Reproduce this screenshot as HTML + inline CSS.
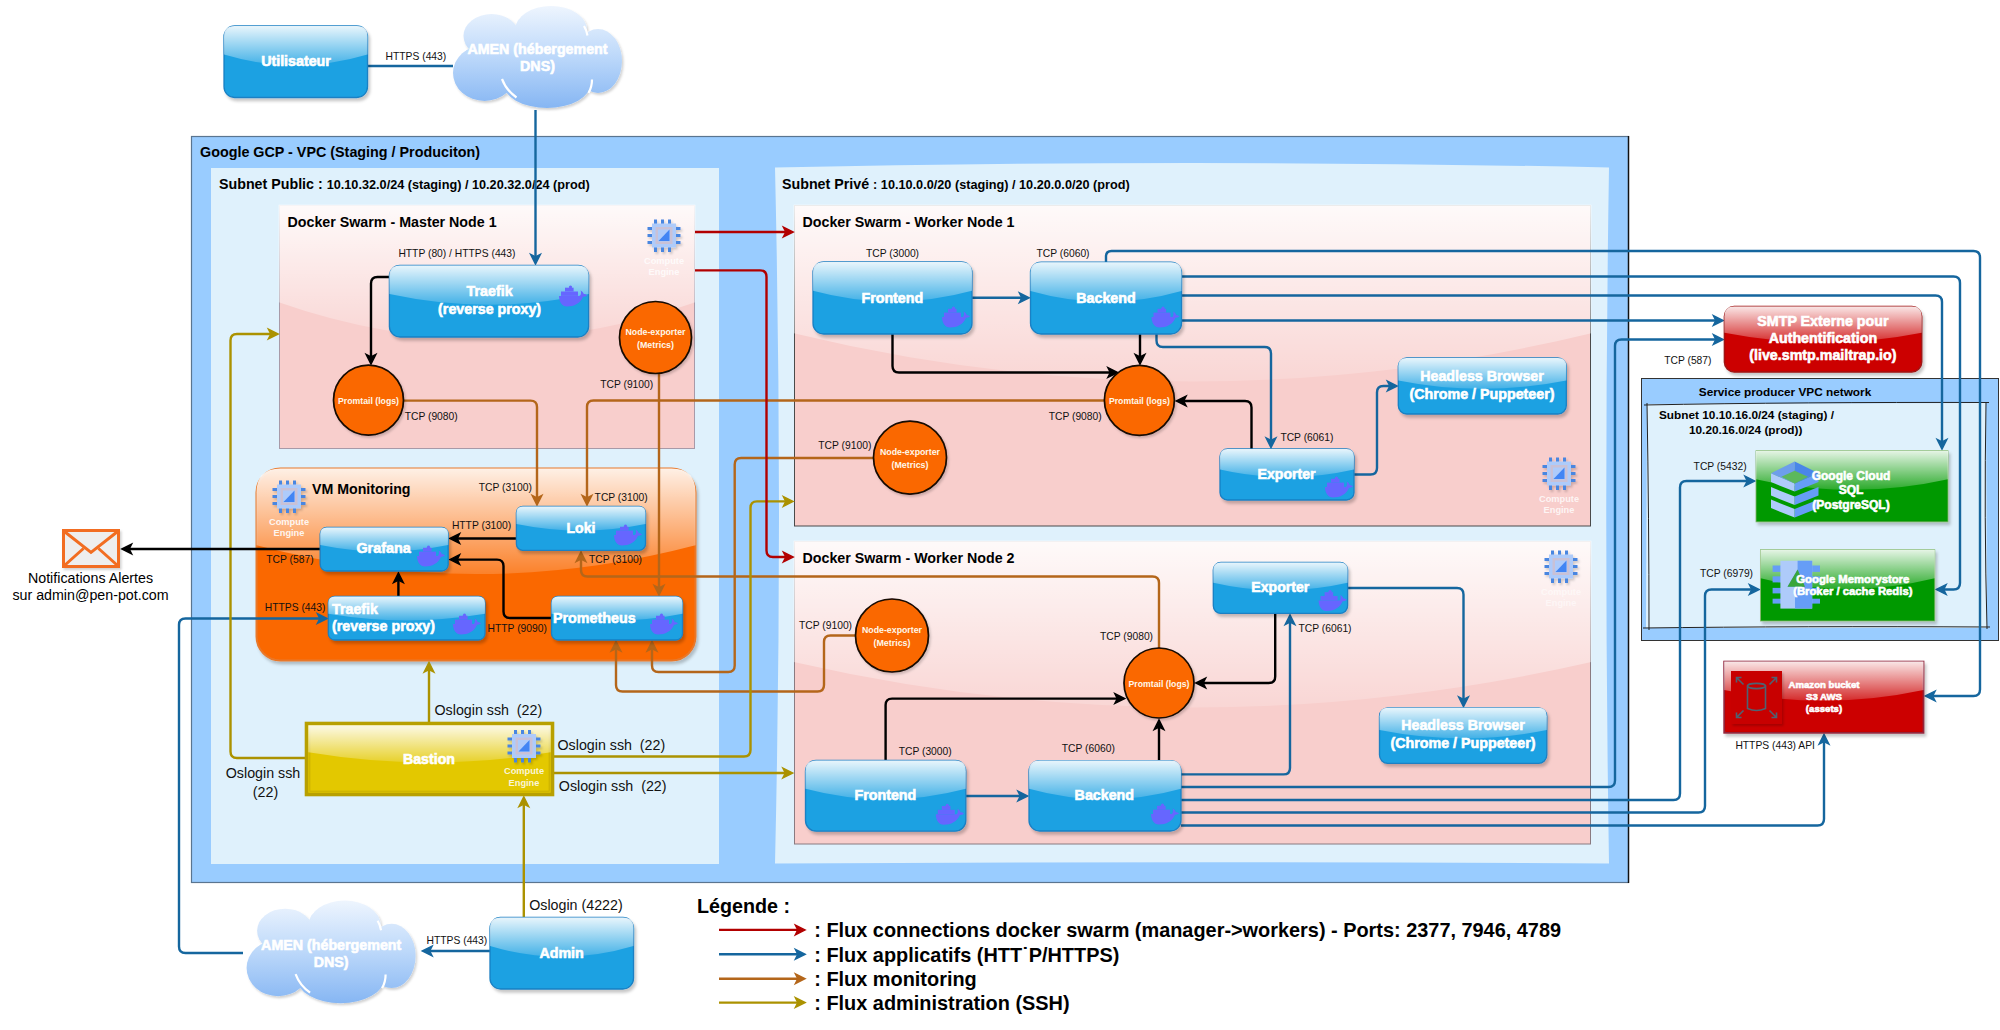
<!DOCTYPE html>
<html><head><meta charset="utf-8"><title>Architecture</title>
<style>
html,body{margin:0;padding:0;background:#fff;overflow:hidden;}
svg{display:block;font-family:"Liberation Sans", sans-serif;}
</style></head><body>
<svg width="2000" height="1030" viewBox="0 0 2000 1030">
<defs>
<linearGradient id="glass" x1="0" y1="0" x2="0" y2="1">
  <stop offset="0" stop-color="#fff" stop-opacity="0.9"/>
  <stop offset="1" stop-color="#fff" stop-opacity="0.1"/>
</linearGradient>
<filter id="sh" x="-10%" y="-10%" width="130%" height="140%">
  <feDropShadow dx="2" dy="3" stdDeviation="1.6" flood-color="#000" flood-opacity="0.22"/>
</filter>
<filter id="shs" x="-10%" y="-10%" width="130%" height="140%">
  <feDropShadow dx="1.5" dy="2" stdDeviation="1.2" flood-color="#000" flood-opacity="0.18"/>
</filter>
<linearGradient id="gl1" gradientUnits="userSpaceOnUse" x1="0" y1="204.7" x2="0" y2="350.98"><stop offset="0" stop-color="#fff" stop-opacity="0.9"/><stop offset="1" stop-color="#fff" stop-opacity="0.1"/></linearGradient><linearGradient id="gl2" gradientUnits="userSpaceOnUse" x1="0" y1="204.7" x2="0" y2="397.48"><stop offset="0" stop-color="#fff" stop-opacity="0.9"/><stop offset="1" stop-color="#fff" stop-opacity="0.1"/></linearGradient><linearGradient id="gl3" gradientUnits="userSpaceOnUse" x1="0" y1="540.7" x2="0" y2="722.6800000000001"><stop offset="0" stop-color="#fff" stop-opacity="0.9"/><stop offset="1" stop-color="#fff" stop-opacity="0.1"/></linearGradient><linearGradient id="gl4" gradientUnits="userSpaceOnUse" x1="0" y1="468.5" x2="0" y2="583.7"><stop offset="0" stop-color="#fff" stop-opacity="0.9"/><stop offset="1" stop-color="#fff" stop-opacity="0.1"/></linearGradient><linearGradient id="gl5" gradientUnits="userSpaceOnUse" x1="0" y1="26" x2="0" y2="68.9"><stop offset="0" stop-color="#fff" stop-opacity="0.9"/><stop offset="1" stop-color="#fff" stop-opacity="0.1"/></linearGradient><linearGradient id="gl6" gradientUnits="userSpaceOnUse" x1="0" y1="917.5" x2="0" y2="960.4"><stop offset="0" stop-color="#fff" stop-opacity="0.9"/><stop offset="1" stop-color="#fff" stop-opacity="0.1"/></linearGradient><linearGradient id="gl7" gradientUnits="userSpaceOnUse" x1="0" y1="265.4" x2="0" y2="308.35999999999996"><stop offset="0" stop-color="#fff" stop-opacity="0.9"/><stop offset="1" stop-color="#fff" stop-opacity="0.1"/></linearGradient><linearGradient id="gl8" gradientUnits="userSpaceOnUse" x1="0" y1="262" x2="0" y2="305.2"><stop offset="0" stop-color="#fff" stop-opacity="0.9"/><stop offset="1" stop-color="#fff" stop-opacity="0.1"/></linearGradient><linearGradient id="gl9" gradientUnits="userSpaceOnUse" x1="0" y1="262.2" x2="0" y2="305.28"><stop offset="0" stop-color="#fff" stop-opacity="0.9"/><stop offset="1" stop-color="#fff" stop-opacity="0.1"/></linearGradient><linearGradient id="gl10" gradientUnits="userSpaceOnUse" x1="0" y1="760.5" x2="0" y2="802.92"><stop offset="0" stop-color="#fff" stop-opacity="0.9"/><stop offset="1" stop-color="#fff" stop-opacity="0.1"/></linearGradient><linearGradient id="gl11" gradientUnits="userSpaceOnUse" x1="0" y1="760.6" x2="0" y2="802.84"><stop offset="0" stop-color="#fff" stop-opacity="0.9"/><stop offset="1" stop-color="#fff" stop-opacity="0.1"/></linearGradient><linearGradient id="gl12" gradientUnits="userSpaceOnUse" x1="0" y1="449" x2="0" y2="479.6"><stop offset="0" stop-color="#fff" stop-opacity="0.9"/><stop offset="1" stop-color="#fff" stop-opacity="0.1"/></linearGradient><linearGradient id="gl13" gradientUnits="userSpaceOnUse" x1="0" y1="562.4" x2="0" y2="593.0"><stop offset="0" stop-color="#fff" stop-opacity="0.9"/><stop offset="1" stop-color="#fff" stop-opacity="0.1"/></linearGradient><linearGradient id="gl14" gradientUnits="userSpaceOnUse" x1="0" y1="358" x2="0" y2="391.6"><stop offset="0" stop-color="#fff" stop-opacity="0.9"/><stop offset="1" stop-color="#fff" stop-opacity="0.1"/></linearGradient><linearGradient id="gl15" gradientUnits="userSpaceOnUse" x1="0" y1="707.8" x2="0" y2="741.16"><stop offset="0" stop-color="#fff" stop-opacity="0.9"/><stop offset="1" stop-color="#fff" stop-opacity="0.1"/></linearGradient><linearGradient id="gl16" gradientUnits="userSpaceOnUse" x1="0" y1="527.5" x2="0" y2="553.6"><stop offset="0" stop-color="#fff" stop-opacity="0.9"/><stop offset="1" stop-color="#fff" stop-opacity="0.1"/></linearGradient><linearGradient id="gl17" gradientUnits="userSpaceOnUse" x1="0" y1="506.4" x2="0" y2="532.8"><stop offset="0" stop-color="#fff" stop-opacity="0.9"/><stop offset="1" stop-color="#fff" stop-opacity="0.1"/></linearGradient><linearGradient id="gl18" gradientUnits="userSpaceOnUse" x1="0" y1="596.4" x2="0" y2="622.56"><stop offset="0" stop-color="#fff" stop-opacity="0.9"/><stop offset="1" stop-color="#fff" stop-opacity="0.1"/></linearGradient><linearGradient id="gl19" gradientUnits="userSpaceOnUse" x1="0" y1="596.4" x2="0" y2="622.56"><stop offset="0" stop-color="#fff" stop-opacity="0.9"/><stop offset="1" stop-color="#fff" stop-opacity="0.1"/></linearGradient><linearGradient id="gl20" gradientUnits="userSpaceOnUse" x1="0" y1="725.3" x2="0" y2="765.74"><stop offset="0" stop-color="#fff" stop-opacity="0.9"/><stop offset="1" stop-color="#fff" stop-opacity="0.1"/></linearGradient><linearGradient id="gl21" gradientUnits="userSpaceOnUse" x1="0" y1="306.6" x2="0" y2="345.78000000000003"><stop offset="0" stop-color="#fff" stop-opacity="0.9"/><stop offset="1" stop-color="#fff" stop-opacity="0.1"/></linearGradient><linearGradient id="gl22" gradientUnits="userSpaceOnUse" x1="0" y1="450.7" x2="0" y2="493.41999999999996"><stop offset="0" stop-color="#fff" stop-opacity="0.9"/><stop offset="1" stop-color="#fff" stop-opacity="0.1"/></linearGradient><linearGradient id="gl23" gradientUnits="userSpaceOnUse" x1="0" y1="549.7" x2="0" y2="592.48"><stop offset="0" stop-color="#fff" stop-opacity="0.9"/><stop offset="1" stop-color="#fff" stop-opacity="0.1"/></linearGradient><linearGradient id="gl24" gradientUnits="userSpaceOnUse" x1="0" y1="661.6" x2="0" y2="704.32"><stop offset="0" stop-color="#fff" stop-opacity="0.9"/><stop offset="1" stop-color="#fff" stop-opacity="0.1"/></linearGradient><linearGradient id="cg25" gradientUnits="userSpaceOnUse" x1="0" y1="0" x2="0" y2="102"><stop offset="0" stop-color="#eef5fe"/><stop offset="0.5" stop-color="#bcd8fa"/><stop offset="1" stop-color="#86b6f3"/></linearGradient><linearGradient id="cg26" gradientUnits="userSpaceOnUse" x1="0" y1="0" x2="0" y2="102"><stop offset="0" stop-color="#eef5fe"/><stop offset="0.5" stop-color="#bcd8fa"/><stop offset="1" stop-color="#86b6f3"/></linearGradient></defs>
<rect x="0" y="0" width="2000" height="1030" fill="#fff"/>
<rect x="191.5" y="136.5" width="1437" height="746" fill="#99ccff" stroke="#5a7590" stroke-width="1.2"/>
<path d="M1628.5,136 L1628.5,883" stroke="#111" stroke-width="1.4"/>
<text x="200" y="157" font-size="14.33" font-weight="bold" fill="#000" text-anchor="start" >Google GCP - VPC (Staging / Produciton)</text>
<rect x="211" y="168" width="508" height="696" fill="#dff1fc"/>
<text x="219" y="188.5" font-size="13" fill="#000"><tspan font-weight="bold" font-size="14.25">Subnet Public : </tspan><tspan font-weight="bold" font-size="12.7">10.10.32.0/24 (staging) / 10.20.32.0/24 (prod)</tspan></text>
<path d="M775,167.5 Q1192,158.5 1609,167.5 Q1603.5,515 1609,863.5 Q1192,861 775,863.5 Q783,515 775,167.5 Z" fill="#dff1fc"/>
<text x="782" y="188.5" font-size="13" fill="#000"><tspan font-weight="bold" font-size="14.25">Subnet Privé </tspan><tspan font-weight="bold" font-size="12.7">: 10.10.0.0/20 (staging) / 10.20.0.0/20 (prod)</tspan></text>
<rect x="279.5" y="205.5" width="415" height="243" fill="#f8cecc" stroke="#a89aa8" stroke-width="1"/>
<path d="M278.7,204.7 L278.7,302.22 Q487.0,375.36 695.3,302.22 L695.3,204.7 Z" fill="url(#gl1)"/>
<text x="287.5" y="226.5" font-size="14.25" font-weight="bold" fill="#000" text-anchor="start" >Docker Swarm - Master Node 1</text>
<rect x="794.5" y="205.5" width="796" height="320.5" fill="#f8cecc" stroke="#4a4a4a" stroke-width="1"/>
<path d="M793.7,204.7 L793.7,333.22 Q1192.5,429.61 1591.3000000000002,333.22 L1591.3000000000002,204.7 Z" fill="url(#gl2)"/>
<text x="802.5" y="226.5" font-size="14.25" font-weight="bold" fill="#000" text-anchor="start" >Docker Swarm - Worker Node 1</text>
<rect x="794.5" y="541.5" width="796" height="302.5" fill="#f8cecc" stroke="#8a7a80" stroke-width="1"/>
<path d="M793.7,540.7 L793.7,662.0200000000001 Q1192.5,753.01 1591.3000000000002,662.0200000000001 L1591.3000000000002,540.7 Z" fill="url(#gl3)"/>
<text x="802.5" y="562.5" font-size="14.25" font-weight="bold" fill="#000" text-anchor="start" >Docker Swarm - Worker Node 2</text>
<rect x="256.5" y="468.5" width="439" height="192" rx="24" ry="24" fill="#fa6800" stroke="#e8782a" stroke-width="2" filter="url(#sh)"/>
<path d="M280.5,468.5 Q256.5,468.5 256.5,492.5 L256.5,545.3 Q476.0,602.9 695.5,545.3 L695.5,492.5 Q695.5,468.5 671.5,468.5 Z" fill="url(#gl4)"/>
<text x="312" y="494" font-size="14.2" font-weight="bold" fill="#000" text-anchor="start" >VM Monitoring</text>
<rect x="1641.5" y="378.5" width="357" height="262" fill="#99ccff" stroke="#333" stroke-width="1"/>
<text x="1785" y="395.5" font-size="11.8" font-weight="bold" fill="#000" text-anchor="middle" >Service producer VPC network</text>
<path d="M1647,404 L1986,403 L1987,628 L1646,628 Z" fill="#dff1fc"/>
<path d="M1644,405 Q1800,402 1989,402.5 M1647,403 Q1649,520 1649,630 M1986,402 Q1984,520 1987,629 M1643,628 Q1800,626 1990,627" fill="none" stroke="#222" stroke-width="1"/>
<text x="1659" y="419" font-size="11.8" font-weight="bold" fill="#000" text-anchor="start" >Subnet 10.10.16.0/24 (staging) /</text>
<text x="1689" y="434" font-size="11.8" font-weight="bold" fill="#000" text-anchor="start" >10.20.16.0/24 (prod))</text>
<path d="M367,66 L453.00,66.00" fill="none" stroke="#15669e" stroke-width="2.4" stroke-linejoin="round"/>
<path d="M535.50,264.16 L530.60,254.36 L535.50,256.81 L540.40,254.36 Z" fill="#15669e" stroke="#15669e" stroke-width="1.44" stroke-linejoin="miter"/>
<path d="M535.5,110 L535.50,256.81" fill="none" stroke="#15669e" stroke-width="2.4" stroke-linejoin="round"/>
<path d="M1029.16,297.80 L1019.36,302.70 L1021.81,297.80 L1019.36,292.90 Z" fill="#15669e" stroke="#15669e" stroke-width="1.44" stroke-linejoin="miter"/>
<path d="M972,297.8 L1021.81,297.80" fill="none" stroke="#15669e" stroke-width="2.4" stroke-linejoin="round"/>
<path d="M1925.34,696.00 L1935.14,691.10 L1932.69,696.00 L1935.14,700.90 Z" fill="#15669e" stroke="#15669e" stroke-width="1.44" stroke-linejoin="miter"/>
<path d="M1106,262 L1106.00,256.50 Q1106,251 1111.50,251.00 L1973.50,251.00 Q1980,251 1980.00,257.50 L1980.00,689.50 Q1980,696 1973.50,696.00 L1932.69,696.00" fill="none" stroke="#15669e" stroke-width="2.4" stroke-linejoin="round"/>
<path d="M1936.34,589.50 L1946.14,584.60 L1943.69,589.50 L1946.14,594.40 Z" fill="#15669e" stroke="#15669e" stroke-width="1.44" stroke-linejoin="miter"/>
<path d="M1181,276.5 L1953.50,276.50 Q1960,276.5 1960.00,283.00 L1960.00,583.00 Q1960,589.5 1953.50,589.50 L1943.69,589.50" fill="none" stroke="#15669e" stroke-width="2.4" stroke-linejoin="round"/>
<path d="M1942.00,449.16 L1937.10,439.36 L1942.00,441.81 L1946.90,439.36 Z" fill="#15669e" stroke="#15669e" stroke-width="1.44" stroke-linejoin="miter"/>
<path d="M1181,295.5 L1935.50,295.50 Q1942,295.5 1942.00,302.00 L1942.00,441.81" fill="none" stroke="#15669e" stroke-width="2.4" stroke-linejoin="round"/>
<path d="M1723.16,320.50 L1713.36,325.40 L1715.81,320.50 L1713.36,315.60 Z" fill="#15669e" stroke="#15669e" stroke-width="1.44" stroke-linejoin="miter"/>
<path d="M1181,320.5 L1715.81,320.50" fill="none" stroke="#15669e" stroke-width="2.4" stroke-linejoin="round"/>
<path d="M1271.00,447.66 L1266.10,437.86 L1271.00,440.31 L1275.90,437.86 Z" fill="#15669e" stroke="#15669e" stroke-width="1.44" stroke-linejoin="miter"/>
<path d="M1156.5,334 L1156.50,340.50 Q1156.5,347 1163.00,347.00 L1264.50,347.00 Q1271,347 1271.00,353.50 L1271.00,440.31" fill="none" stroke="#15669e" stroke-width="2.4" stroke-linejoin="round"/>
<path d="M1397.16,386.00 L1387.36,390.90 L1389.81,386.00 L1387.36,381.10 Z" fill="#15669e" stroke="#15669e" stroke-width="1.44" stroke-linejoin="miter"/>
<path d="M1354,474.5 L1370.50,474.50 Q1377,474.5 1377.00,468.00 L1377.00,392.40 Q1377,386 1383.40,386.00 L1389.81,386.00" fill="none" stroke="#15669e" stroke-width="2.4" stroke-linejoin="round"/>
<path d="M1027.66,796.00 L1017.86,800.90 L1020.31,796.00 L1017.86,791.10 Z" fill="#15669e" stroke="#15669e" stroke-width="1.44" stroke-linejoin="miter"/>
<path d="M966,796 L1020.31,796.00" fill="none" stroke="#15669e" stroke-width="2.4" stroke-linejoin="round"/>
<path d="M1290.00,614.84 L1294.90,624.64 L1290.00,622.19 L1285.10,624.64 Z" fill="#15669e" stroke="#15669e" stroke-width="1.44" stroke-linejoin="miter"/>
<path d="M1181,774.4 L1283.50,774.40 Q1290,774.4 1290.00,767.90 L1290.00,622.19" fill="none" stroke="#15669e" stroke-width="2.4" stroke-linejoin="round"/>
<path d="M1723.16,339.50 L1713.36,344.40 L1715.81,339.50 L1713.36,334.60 Z" fill="#15669e" stroke="#15669e" stroke-width="1.44" stroke-linejoin="miter"/>
<path d="M1181,787 L1608.50,787.00 Q1615,787 1615.00,780.50 L1615.00,346.00 Q1615,339.5 1621.50,339.50 L1715.81,339.50" fill="none" stroke="#15669e" stroke-width="2.4" stroke-linejoin="round"/>
<path d="M1754.66,481.00 L1744.86,485.90 L1747.31,481.00 L1744.86,476.10 Z" fill="#15669e" stroke="#15669e" stroke-width="1.44" stroke-linejoin="miter"/>
<path d="M1181,800 L1673.50,800.00 Q1680,800 1680.00,793.50 L1680.00,487.50 Q1680,481 1686.50,481.00 L1747.31,481.00" fill="none" stroke="#15669e" stroke-width="2.4" stroke-linejoin="round"/>
<path d="M1759.16,589.50 L1749.36,594.40 L1751.81,589.50 L1749.36,584.60 Z" fill="#15669e" stroke="#15669e" stroke-width="1.44" stroke-linejoin="miter"/>
<path d="M1181,812.5 L1698.50,812.50 Q1705,812.5 1705.00,806.00 L1705.00,596.00 Q1705,589.5 1711.50,589.50 L1751.81,589.50" fill="none" stroke="#15669e" stroke-width="2.4" stroke-linejoin="round"/>
<path d="M1824.00,734.34 L1828.90,744.14 L1824.00,741.69 L1819.10,744.14 Z" fill="#15669e" stroke="#15669e" stroke-width="1.44" stroke-linejoin="miter"/>
<path d="M1181,825.5 L1817.50,825.50 Q1824,825.5 1824.00,819.00 L1824.00,741.69" fill="none" stroke="#15669e" stroke-width="2.4" stroke-linejoin="round"/>
<path d="M1463.50,706.66 L1458.60,696.86 L1463.50,699.31 L1468.40,696.86 Z" fill="#15669e" stroke="#15669e" stroke-width="1.44" stroke-linejoin="miter"/>
<path d="M1348,588 L1457.00,588.00 Q1463.5,588 1463.50,594.50 L1463.50,699.31" fill="none" stroke="#15669e" stroke-width="2.4" stroke-linejoin="round"/>
<path d="M422.34,951.00 L432.14,946.10 L429.69,951.00 L432.14,955.90 Z" fill="#15669e" stroke="#15669e" stroke-width="1.44" stroke-linejoin="miter"/>
<path d="M490,951 L429.69,951.00" fill="none" stroke="#15669e" stroke-width="2.4" stroke-linejoin="round"/>
<path d="M327.16,618.50 L317.36,623.40 L319.81,618.50 L317.36,613.60 Z" fill="#15669e" stroke="#15669e" stroke-width="1.44" stroke-linejoin="miter"/>
<path d="M243,953 L185.50,953.00 Q179,953 179.00,946.50 L179.00,625.00 Q179,618.5 185.50,618.50 L319.81,618.50" fill="none" stroke="#15669e" stroke-width="2.4" stroke-linejoin="round"/>
<path d="M537.00,505.16 L532.10,495.36 L537.00,497.81 L541.90,495.36 Z" fill="#b4661a" stroke="#b4661a" stroke-width="1.44" stroke-linejoin="miter"/>
<path d="M404,400.6 L530.50,400.60 Q537,400.6 537.00,407.10 L537.00,497.81" fill="none" stroke="#b4661a" stroke-width="2.4" stroke-linejoin="round"/>
<path d="M587.00,505.16 L582.10,495.36 L587.00,497.81 L591.90,495.36 Z" fill="#b4661a" stroke="#b4661a" stroke-width="1.44" stroke-linejoin="miter"/>
<path d="M1104,400.5 L593.50,400.50 Q587,400.5 587.00,407.00 L587.00,497.81" fill="none" stroke="#b4661a" stroke-width="2.4" stroke-linejoin="round"/>
<path d="M659.00,595.16 L654.10,585.36 L659.00,587.81 L663.90,585.36 Z" fill="#b4661a" stroke="#b4661a" stroke-width="1.44" stroke-linejoin="miter"/>
<path d="M659,374 L659.00,587.81" fill="none" stroke="#b4661a" stroke-width="2.4" stroke-linejoin="round"/>
<path d="M652.00,641.34 L656.90,651.14 L652.00,648.69 L647.10,651.14 Z" fill="#b4661a" stroke="#b4661a" stroke-width="1.44" stroke-linejoin="miter"/>
<path d="M874,458 L741.20,458.00 Q734.7,458 734.70,464.50 L734.70,665.50 Q734.7,672 728.20,672.00 L658.50,672.00 Q652,672 652.00,665.50 L652.00,648.69" fill="none" stroke="#b4661a" stroke-width="2.4" stroke-linejoin="round"/>
<path d="M616.00,641.34 L620.90,651.14 L616.00,648.69 L611.10,651.14 Z" fill="#b4661a" stroke="#b4661a" stroke-width="1.44" stroke-linejoin="miter"/>
<path d="M856,635.5 L830.50,635.50 Q824,635.5 824.00,642.00 L824.00,685.00 Q824,691.5 817.50,691.50 L622.50,691.50 Q616,691.5 616.00,685.00 L616.00,648.69" fill="none" stroke="#b4661a" stroke-width="2.4" stroke-linejoin="round"/>
<path d="M581.00,551.84 L585.90,561.64 L581.00,559.19 L576.10,561.64 Z" fill="#b4661a" stroke="#b4661a" stroke-width="1.44" stroke-linejoin="miter"/>
<path d="M1159,648 L1159.00,583.00 Q1159,576.5 1152.50,576.50 L587.50,576.50 Q581,576.5 581.00,570.00 L581.00,559.19" fill="none" stroke="#b4661a" stroke-width="2.4" stroke-linejoin="round"/>
<path d="M429.00,662.34 L433.90,672.14 L429.00,669.69 L424.10,672.14 Z" fill="#ab9200" stroke="#ab9200" stroke-width="1.44" stroke-linejoin="miter"/>
<path d="M429,722 L429.00,669.69" fill="none" stroke="#ab9200" stroke-width="2.4" stroke-linejoin="round"/>
<path d="M278.16,334.00 L268.36,338.90 L270.81,334.00 L268.36,329.10 Z" fill="#ab9200" stroke="#ab9200" stroke-width="1.44" stroke-linejoin="miter"/>
<path d="M305.5,758 L237.00,758.00 Q230.5,758 230.50,751.50 L230.50,340.50 Q230.5,334 237.00,334.00 L270.81,334.00" fill="none" stroke="#ab9200" stroke-width="2.4" stroke-linejoin="round"/>
<path d="M793.16,501.40 L783.36,506.30 L785.81,501.40 L783.36,496.50 Z" fill="#ab9200" stroke="#ab9200" stroke-width="1.44" stroke-linejoin="miter"/>
<path d="M553.5,756.5 L744.00,756.50 Q750.5,756.5 750.50,750.00 L750.50,507.90 Q750.5,501.4 757.00,501.40 L785.81,501.40" fill="none" stroke="#ab9200" stroke-width="2.4" stroke-linejoin="round"/>
<path d="M792.66,773.00 L782.86,777.90 L785.31,773.00 L782.86,768.10 Z" fill="#ab9200" stroke="#ab9200" stroke-width="1.44" stroke-linejoin="miter"/>
<path d="M553.5,773 L785.31,773.00" fill="none" stroke="#ab9200" stroke-width="2.4" stroke-linejoin="round"/>
<path d="M523.80,796.84 L528.70,806.64 L523.80,804.19 L518.90,806.64 Z" fill="#ab9200" stroke="#ab9200" stroke-width="1.44" stroke-linejoin="miter"/>
<path d="M523.8,917.5 L523.80,804.19" fill="none" stroke="#ab9200" stroke-width="2.4" stroke-linejoin="round"/>
<path d="M793.16,232.00 L783.36,236.90 L785.81,232.00 L783.36,227.10 Z" fill="#b20000" stroke="#b20000" stroke-width="1.44" stroke-linejoin="miter"/>
<path d="M695,232 L785.81,232.00" fill="none" stroke="#b20000" stroke-width="2.4" stroke-linejoin="round"/>
<path d="M793.16,557.00 L783.36,561.90 L785.81,557.00 L783.36,552.10 Z" fill="#b20000" stroke="#b20000" stroke-width="1.44" stroke-linejoin="miter"/>
<path d="M695,270.4 L760.00,270.40 Q766.5,270.4 766.50,276.90 L766.50,550.50 Q766.5,557 773.00,557.00 L785.81,557.00" fill="none" stroke="#b20000" stroke-width="2.4" stroke-linejoin="round"/>
<path d="M371.00,364.16 L366.10,354.36 L371.00,356.81 L375.90,354.36 Z" fill="#000000" stroke="#000000" stroke-width="1.44" stroke-linejoin="miter"/>
<path d="M389.5,277 L377.50,277.00 Q371,277 371.00,283.50 L371.00,356.81" fill="none" stroke="#000000" stroke-width="2.4" stroke-linejoin="round"/>
<path d="M1117.66,372.50 L1107.86,377.40 L1110.31,372.50 L1107.86,367.60 Z" fill="#000000" stroke="#000000" stroke-width="1.44" stroke-linejoin="miter"/>
<path d="M892.5,334 L892.50,366.00 Q892.5,372.5 899.00,372.50 L1110.31,372.50" fill="none" stroke="#000000" stroke-width="2.4" stroke-linejoin="round"/>
<path d="M1140.00,364.16 L1135.10,354.36 L1140.00,356.81 L1144.90,354.36 Z" fill="#000000" stroke="#000000" stroke-width="1.44" stroke-linejoin="miter"/>
<path d="M1140,334 L1140.00,356.81" fill="none" stroke="#000000" stroke-width="2.4" stroke-linejoin="round"/>
<path d="M1176.34,401.00 L1186.14,396.10 L1183.69,401.00 L1186.14,405.90 Z" fill="#000000" stroke="#000000" stroke-width="1.44" stroke-linejoin="miter"/>
<path d="M1251.5,449 L1251.50,407.50 Q1251.5,401 1245.00,401.00 L1183.69,401.00" fill="none" stroke="#000000" stroke-width="2.4" stroke-linejoin="round"/>
<path d="M121.84,549.00 L131.64,544.10 L129.19,549.00 L131.64,553.90 Z" fill="#000000" stroke="#000000" stroke-width="1.44" stroke-linejoin="miter"/>
<path d="M320,549 L129.19,549.00" fill="none" stroke="#000000" stroke-width="2.4" stroke-linejoin="round"/>
<path d="M449.84,538.50 L459.64,533.60 L457.19,538.50 L459.64,543.40 Z" fill="#000000" stroke="#000000" stroke-width="1.44" stroke-linejoin="miter"/>
<path d="M516.5,538.5 L457.19,538.50" fill="none" stroke="#000000" stroke-width="2.4" stroke-linejoin="round"/>
<path d="M449.84,559.60 L459.64,554.70 L457.19,559.60 L459.64,564.50 Z" fill="#000000" stroke="#000000" stroke-width="1.44" stroke-linejoin="miter"/>
<path d="M551.5,618 L510.00,618.00 Q503.5,618 503.50,611.50 L503.50,566.10 Q503.5,559.6 497.00,559.60 L457.19,559.60" fill="none" stroke="#000000" stroke-width="2.4" stroke-linejoin="round"/>
<path d="M398.40,572.84 L403.30,582.64 L398.40,580.19 L393.50,582.64 Z" fill="#000000" stroke="#000000" stroke-width="1.44" stroke-linejoin="miter"/>
<path d="M398.4,596.5 L398.40,580.19" fill="none" stroke="#000000" stroke-width="2.4" stroke-linejoin="round"/>
<path d="M1124.66,698.60 L1114.86,703.50 L1117.31,698.60 L1114.86,693.70 Z" fill="#000000" stroke="#000000" stroke-width="1.44" stroke-linejoin="miter"/>
<path d="M885.6,760.5 L885.60,705.10 Q885.6,698.6 892.10,698.60 L1117.31,698.60" fill="none" stroke="#000000" stroke-width="2.4" stroke-linejoin="round"/>
<path d="M1159.00,719.84 L1163.90,729.64 L1159.00,727.19 L1154.10,729.64 Z" fill="#000000" stroke="#000000" stroke-width="1.44" stroke-linejoin="miter"/>
<path d="M1159,760.5 L1159.00,727.19" fill="none" stroke="#000000" stroke-width="2.4" stroke-linejoin="round"/>
<path d="M1195.84,683.00 L1205.64,678.10 L1203.19,683.00 L1205.64,687.90 Z" fill="#000000" stroke="#000000" stroke-width="1.44" stroke-linejoin="miter"/>
<path d="M1275.2,613 L1275.20,676.50 Q1275.2,683 1268.70,683.00 L1203.19,683.00" fill="none" stroke="#000000" stroke-width="2.4" stroke-linejoin="round"/>
<rect x="224" y="26" width="143.5" height="71.5" rx="10.7" ry="10.7" fill="#1ba1e2" stroke="#1a80c4" stroke-width="1.3" filter="url(#sh)"/>
<path d="M234.7,26 Q224,26 224,36.7 L224,54.6 Q295.75,76.05 367.5,54.6 L367.5,36.7 Q367.5,26 356.8,26 Z" fill="url(#gl5)"/>
<text x="296" y="65.6" font-size="14.25" font-weight="bold" fill="#fff" text-anchor="middle"  stroke="#fff" stroke-width="0.6">Utilisateur</text>
<rect x="490" y="917.5" width="143.5" height="71.5" rx="10.7" ry="10.7" fill="#1ba1e2" stroke="#1a80c4" stroke-width="1.3" filter="url(#sh)"/>
<path d="M500.7,917.5 Q490,917.5 490,928.2 L490,946.1 Q561.75,967.55 633.5,946.1 L633.5,928.2 Q633.5,917.5 622.8,917.5 Z" fill="url(#gl6)"/>
<text x="561.6" y="958.2" font-size="14.25" font-weight="bold" fill="#fff" text-anchor="middle"  stroke="#fff" stroke-width="0.6">Admin</text>
<rect x="389.4" y="265.4" width="199.2" height="71.6" rx="10.7" ry="10.7" fill="#1ba1e2" stroke="#1a80c4" stroke-width="1.3" filter="url(#sh)"/>
<path d="M400.09999999999997,265.4 Q389.4,265.4 389.4,276.09999999999997 L389.4,294.03999999999996 Q489.0,315.52 588.5999999999999,294.03999999999996 L588.5999999999999,276.09999999999997 Q588.5999999999999,265.4 577.8999999999999,265.4 Z" fill="url(#gl7)"/>
<g transform="translate(558,285.9) scale(1.0)" fill="#6666ff"><path d="M1,10 L22,10 C23,8.5 23.5,6 22.5,4.5 C24.5,5.2 25.5,7 25.8,8.2 C27,8 28.5,8.6 29,9.5 C27.5,10.5 26.2,10.8 25,10.8 C22.5,17.5 16,20.5 9,20.5 C4,20.5 1.2,16 1,10 Z"/><rect x="3" y="5.6" width="17" height="4.4"/><rect x="7" y="1.8" width="8.6" height="3.8"/><circle cx="12.5" cy="1.2" r="1.6"/></g>
<text x="489.6" y="296.4" font-size="14.25" font-weight="bold" fill="#fff" text-anchor="middle"  stroke="#fff" stroke-width="0.6">Traefik</text>
<text x="489.6" y="313.8" font-size="14.25" font-weight="bold" fill="#fff" text-anchor="middle"  stroke="#fff" stroke-width="0.6">(reverse proxy)</text>
<rect x="813" y="262" width="159" height="72" rx="10.7" ry="10.7" fill="#1ba1e2" stroke="#1a80c4" stroke-width="1.3" filter="url(#sh)"/>
<path d="M823.7,262 Q813,262 813,272.7 L813,290.8 Q892.5,312.4 972,290.8 L972,272.7 Q972,262 961.3,262 Z" fill="url(#gl8)"/>
<g transform="translate(941,307) scale(1.0)" fill="#6666ff"><path d="M1,10 L22,10 C23,8.5 23.5,6 22.5,4.5 C24.5,5.2 25.5,7 25.8,8.2 C27,8 28.5,8.6 29,9.5 C27.5,10.5 26.2,10.8 25,10.8 C22.5,17.5 16,20.5 9,20.5 C4,20.5 1.2,16 1,10 Z"/><rect x="3" y="5.6" width="17" height="4.4"/><rect x="7" y="1.8" width="8.6" height="3.8"/><circle cx="12.5" cy="1.2" r="1.6"/></g>
<text x="892.3" y="302.5" font-size="14.25" font-weight="bold" fill="#fff" text-anchor="middle"  stroke="#fff" stroke-width="0.6">Frontend</text>
<rect x="1030.5" y="262.2" width="151" height="71.8" rx="10.7" ry="10.7" fill="#1ba1e2" stroke="#1a80c4" stroke-width="1.3" filter="url(#sh)"/>
<path d="M1041.2,262.2 Q1030.5,262.2 1030.5,272.9 L1030.5,290.91999999999996 Q1106.0,312.46 1181.5,290.91999999999996 L1181.5,272.9 Q1181.5,262.2 1170.8,262.2 Z" fill="url(#gl9)"/>
<g transform="translate(1150.5,307.0) scale(1.0)" fill="#6666ff"><path d="M1,10 L22,10 C23,8.5 23.5,6 22.5,4.5 C24.5,5.2 25.5,7 25.8,8.2 C27,8 28.5,8.6 29,9.5 C27.5,10.5 26.2,10.8 25,10.8 C22.5,17.5 16,20.5 9,20.5 C4,20.5 1.2,16 1,10 Z"/><rect x="3" y="5.6" width="17" height="4.4"/><rect x="7" y="1.8" width="8.6" height="3.8"/><circle cx="12.5" cy="1.2" r="1.6"/></g>
<text x="1106" y="302.5" font-size="14.25" font-weight="bold" fill="#fff" text-anchor="middle"  stroke="#fff" stroke-width="0.6">Backend</text>
<rect x="805.5" y="760.5" width="160.3" height="70.7" rx="10.7" ry="10.7" fill="#1ba1e2" stroke="#1a80c4" stroke-width="1.3" filter="url(#sh)"/>
<path d="M816.2,760.5 Q805.5,760.5 805.5,771.2 L805.5,788.78 Q885.65,809.99 965.8,788.78 L965.8,771.2 Q965.8,760.5 955.0999999999999,760.5 Z" fill="url(#gl10)"/>
<g transform="translate(934.8,804.2) scale(1.0)" fill="#6666ff"><path d="M1,10 L22,10 C23,8.5 23.5,6 22.5,4.5 C24.5,5.2 25.5,7 25.8,8.2 C27,8 28.5,8.6 29,9.5 C27.5,10.5 26.2,10.8 25,10.8 C22.5,17.5 16,20.5 9,20.5 C4,20.5 1.2,16 1,10 Z"/><rect x="3" y="5.6" width="17" height="4.4"/><rect x="7" y="1.8" width="8.6" height="3.8"/><circle cx="12.5" cy="1.2" r="1.6"/></g>
<text x="885.4" y="800" font-size="14.25" font-weight="bold" fill="#fff" text-anchor="middle"  stroke="#fff" stroke-width="0.6">Frontend</text>
<rect x="1029" y="760.6" width="152" height="70.4" rx="10.7" ry="10.7" fill="#1ba1e2" stroke="#1a80c4" stroke-width="1.3" filter="url(#sh)"/>
<path d="M1039.7,760.6 Q1029,760.6 1029,771.3000000000001 L1029,788.76 Q1105.0,809.88 1181,788.76 L1181,771.3000000000001 Q1181,760.6 1170.3,760.6 Z" fill="url(#gl11)"/>
<g transform="translate(1150,804.0) scale(1.0)" fill="#6666ff"><path d="M1,10 L22,10 C23,8.5 23.5,6 22.5,4.5 C24.5,5.2 25.5,7 25.8,8.2 C27,8 28.5,8.6 29,9.5 C27.5,10.5 26.2,10.8 25,10.8 C22.5,17.5 16,20.5 9,20.5 C4,20.5 1.2,16 1,10 Z"/><rect x="3" y="5.6" width="17" height="4.4"/><rect x="7" y="1.8" width="8.6" height="3.8"/><circle cx="12.5" cy="1.2" r="1.6"/></g>
<text x="1104.3" y="799.7" font-size="14.25" font-weight="bold" fill="#fff" text-anchor="middle"  stroke="#fff" stroke-width="0.6">Backend</text>
<rect x="1220" y="449" width="134" height="51" rx="7.6" ry="7.6" fill="#1ba1e2" stroke="#1a80c4" stroke-width="1.3" filter="url(#sh)"/>
<path d="M1227.6,449 Q1220,449 1220,456.6 L1220,469.4 Q1287.0,484.7 1354,469.4 L1354,456.6 Q1354,449 1346.4,449 Z" fill="url(#gl12)"/>
<g transform="translate(1324,477) scale(1.0)" fill="#6666ff"><path d="M1,10 L22,10 C23,8.5 23.5,6 22.5,4.5 C24.5,5.2 25.5,7 25.8,8.2 C27,8 28.5,8.6 29,9.5 C27.5,10.5 26.2,10.8 25,10.8 C22.5,17.5 16,20.5 9,20.5 C4,20.5 1.2,16 1,10 Z"/><rect x="3" y="5.6" width="17" height="4.4"/><rect x="7" y="1.8" width="8.6" height="3.8"/><circle cx="12.5" cy="1.2" r="1.6"/></g>
<text x="1286.6" y="478.6" font-size="14.1" font-weight="bold" fill="#fff" text-anchor="middle"  stroke="#fff" stroke-width="0.6">Exporter</text>
<rect x="1213.3" y="562.4" width="134.3" height="51" rx="7.6" ry="7.6" fill="#1ba1e2" stroke="#1a80c4" stroke-width="1.3" filter="url(#sh)"/>
<path d="M1220.8999999999999,562.4 Q1213.3,562.4 1213.3,570.0 L1213.3,582.8 Q1280.45,598.1 1347.6,582.8 L1347.6,570.0 Q1347.6,562.4 1340.0,562.4 Z" fill="url(#gl13)"/>
<g transform="translate(1317.6,590.4) scale(1.0)" fill="#6666ff"><path d="M1,10 L22,10 C23,8.5 23.5,6 22.5,4.5 C24.5,5.2 25.5,7 25.8,8.2 C27,8 28.5,8.6 29,9.5 C27.5,10.5 26.2,10.8 25,10.8 C22.5,17.5 16,20.5 9,20.5 C4,20.5 1.2,16 1,10 Z"/><rect x="3" y="5.6" width="17" height="4.4"/><rect x="7" y="1.8" width="8.6" height="3.8"/><circle cx="12.5" cy="1.2" r="1.6"/></g>
<text x="1280.3" y="591.5" font-size="14.1" font-weight="bold" fill="#fff" text-anchor="middle"  stroke="#fff" stroke-width="0.6">Exporter</text>
<rect x="1398.3" y="358" width="168" height="56" rx="8.4" ry="8.4" fill="#1ba1e2" stroke="#1a80c4" stroke-width="1.3" filter="url(#sh)"/>
<path d="M1406.7,358 Q1398.3,358 1398.3,366.4 L1398.3,380.4 Q1482.3,397.2 1566.3,380.4 L1566.3,366.4 Q1566.3,358 1557.8999999999999,358 Z" fill="url(#gl14)"/>
<text x="1482" y="381" font-size="14.25" font-weight="bold" fill="#fff" text-anchor="middle"  stroke="#fff" stroke-width="0.6">Headless Browser</text>
<text x="1482" y="399" font-size="14.25" font-weight="bold" fill="#fff" text-anchor="middle"  stroke="#fff" stroke-width="0.6">(Chrome / Puppeteer)</text>
<rect x="1379.5" y="707.8" width="167.3" height="55.6" rx="8.4" ry="8.4" fill="#1ba1e2" stroke="#1a80c4" stroke-width="1.3" filter="url(#sh)"/>
<path d="M1387.9,707.8 Q1379.5,707.8 1379.5,716.1999999999999 L1379.5,730.04 Q1463.15,746.7199999999999 1546.8,730.04 L1546.8,716.1999999999999 Q1546.8,707.8 1538.3999999999999,707.8 Z" fill="url(#gl15)"/>
<text x="1463" y="730.3" font-size="14.25" font-weight="bold" fill="#fff" text-anchor="middle"  stroke="#fff" stroke-width="0.6">Headless Browser</text>
<text x="1463" y="748.4" font-size="14.25" font-weight="bold" fill="#fff" text-anchor="middle"  stroke="#fff" stroke-width="0.6">(Chrome / Puppeteer)</text>
<rect x="320.2" y="527.5" width="128" height="43.5" rx="6.5" ry="6.5" fill="#1ba1e2" stroke="#1a80c4" stroke-width="1.3" filter="url(#sh)"/>
<path d="M326.7,527.5 Q320.2,527.5 320.2,534.0 L320.2,544.9 Q384.2,557.95 448.2,544.9 L448.2,534.0 Q448.2,527.5 441.7,527.5 Z" fill="url(#gl16)"/>
<g transform="translate(416,546) scale(1.0)" fill="#6666ff"><path d="M1,10 L22,10 C23,8.5 23.5,6 22.5,4.5 C24.5,5.2 25.5,7 25.8,8.2 C27,8 28.5,8.6 29,9.5 C27.5,10.5 26.2,10.8 25,10.8 C22.5,17.5 16,20.5 9,20.5 C4,20.5 1.2,16 1,10 Z"/><rect x="3" y="5.6" width="17" height="4.4"/><rect x="7" y="1.8" width="8.6" height="3.8"/><circle cx="12.5" cy="1.2" r="1.6"/></g>
<text x="383.6" y="553.3" font-size="14.4" font-weight="bold" fill="#fff" text-anchor="middle"  stroke="#fff" stroke-width="0.6">Grafana</text>
<rect x="516.4" y="506.4" width="129.1" height="44" rx="6.5" ry="6.5" fill="#1ba1e2" stroke="#1a80c4" stroke-width="1.3" filter="url(#sh)"/>
<path d="M522.9,506.4 Q516.4,506.4 516.4,512.9 L516.4,524.0 Q580.9499999999999,537.1999999999999 645.5,524.0 L645.5,512.9 Q645.5,506.4 639.0,506.4 Z" fill="url(#gl17)"/>
<g transform="translate(613,525) scale(1.0)" fill="#6666ff"><path d="M1,10 L22,10 C23,8.5 23.5,6 22.5,4.5 C24.5,5.2 25.5,7 25.8,8.2 C27,8 28.5,8.6 29,9.5 C27.5,10.5 26.2,10.8 25,10.8 C22.5,17.5 16,20.5 9,20.5 C4,20.5 1.2,16 1,10 Z"/><rect x="3" y="5.6" width="17" height="4.4"/><rect x="7" y="1.8" width="8.6" height="3.8"/><circle cx="12.5" cy="1.2" r="1.6"/></g>
<text x="581" y="533" font-size="14.1" font-weight="bold" fill="#fff" text-anchor="middle"  stroke="#fff" stroke-width="0.6">Loki</text>
<rect x="328.3" y="596.4" width="156.7" height="43.6" rx="6.5" ry="6.5" fill="#1ba1e2" stroke="#1a80c4" stroke-width="1.3" filter="url(#sh)"/>
<path d="M334.8,596.4 Q328.3,596.4 328.3,602.9 L328.3,613.84 Q406.65,626.92 485.0,613.84 L485.0,602.9 Q485.0,596.4 478.5,596.4 Z" fill="url(#gl18)"/>
<g transform="translate(452,614) scale(1.0)" fill="#6666ff"><path d="M1,10 L22,10 C23,8.5 23.5,6 22.5,4.5 C24.5,5.2 25.5,7 25.8,8.2 C27,8 28.5,8.6 29,9.5 C27.5,10.5 26.2,10.8 25,10.8 C22.5,17.5 16,20.5 9,20.5 C4,20.5 1.2,16 1,10 Z"/><rect x="3" y="5.6" width="17" height="4.4"/><rect x="7" y="1.8" width="8.6" height="3.8"/><circle cx="12.5" cy="1.2" r="1.6"/></g>
<text x="332" y="614" font-size="14.25" font-weight="bold" fill="#fff" text-anchor="start"  stroke="#fff" stroke-width="0.6">Traefik</text>
<text x="332" y="630.7" font-size="14.25" font-weight="bold" fill="#fff" text-anchor="start"  stroke="#fff" stroke-width="0.6">(reverse proxy)</text>
<rect x="551.5" y="596.4" width="131" height="43.6" rx="6.5" ry="6.5" fill="#1ba1e2" stroke="#1a80c4" stroke-width="1.3" filter="url(#sh)"/>
<path d="M558.0,596.4 Q551.5,596.4 551.5,602.9 L551.5,613.84 Q617.0,626.92 682.5,613.84 L682.5,602.9 Q682.5,596.4 676.0,596.4 Z" fill="url(#gl19)"/>
<g transform="translate(649,614) scale(1.0)" fill="#6666ff"><path d="M1,10 L22,10 C23,8.5 23.5,6 22.5,4.5 C24.5,5.2 25.5,7 25.8,8.2 C27,8 28.5,8.6 29,9.5 C27.5,10.5 26.2,10.8 25,10.8 C22.5,17.5 16,20.5 9,20.5 C4,20.5 1.2,16 1,10 Z"/><rect x="3" y="5.6" width="17" height="4.4"/><rect x="7" y="1.8" width="8.6" height="3.8"/><circle cx="12.5" cy="1.2" r="1.6"/></g>
<text x="553" y="622.6" font-size="14.3" font-weight="bold" fill="#fff" text-anchor="start"  stroke="#fff" stroke-width="0.6">Prometheus</text>
<rect x="306.5" y="723.5" width="246" height="71" fill="#e3c800" stroke="#b8a000" stroke-width="3.6"/>
<rect x="309.8" y="726.8" width="239.4" height="64.4" fill="none" stroke="#c8ae00" stroke-width="1"/>
<path d="M308.3,725.3 L308.3,752.26 Q429.5,772.4799999999999 550.7,752.26 L550.7,725.3 Z" fill="url(#gl20)"/>
<text x="429" y="763.5" font-size="14.2" font-weight="bold" fill="#fff" text-anchor="middle"  stroke="#fff" stroke-width="0.6">Bastion</text>
<rect x="1724.4" y="306.6" width="197.3" height="65.3" rx="9.8" ry="9.8" fill="#cc0000" stroke="#a01515" stroke-width="1.5" filter="url(#sh)"/>
<path d="M1734.2,306.6 Q1724.4,306.6 1724.4,316.40000000000003 L1724.4,332.72 Q1823.0500000000002,352.31 1921.7,332.72 L1921.7,316.40000000000003 Q1921.7,306.6 1911.9,306.6 Z" fill="url(#gl21)"/>
<text x="1822.9" y="325.8" font-size="14.25" font-weight="bold" fill="#fff" text-anchor="middle"  stroke="#fff" stroke-width="0.6">SMTP Externe pour</text>
<text x="1822.9" y="343.3" font-size="14.25" font-weight="bold" fill="#fff" text-anchor="middle"  stroke="#fff" stroke-width="0.6">Authentification</text>
<text x="1822.9" y="360.2" font-size="14.25" font-weight="bold" fill="#fff" text-anchor="middle"  stroke="#fff" stroke-width="0.6">(live.smtp.mailtrap.io)</text>
<rect x="1756" y="450.7" width="192" height="71.2" rx="0" ry="0" fill="#009900" stroke="#82b366" stroke-width="0.8" filter="url(#sh)"/>
<path d="M1756,450.7 L1756,479.18 Q1852.0,500.53999999999996 1948,479.18 L1948,450.7 Z" fill="url(#gl22)"/>
<rect x="1760.6" y="549.7" width="174.2" height="71.3" rx="0" ry="0" fill="#009900" stroke="#82b366" stroke-width="0.8" filter="url(#sh)"/>
<path d="M1760.6,549.7 L1760.6,578.22 Q1847.6999999999998,599.61 1934.8,578.22 L1934.8,549.7 Z" fill="url(#gl23)"/>
<rect x="1724.2" y="661.6" width="199.3" height="71.2" rx="0" ry="0" fill="#cc0000" stroke="#93263a" stroke-width="1.8" filter="url(#sh)"/>
<path d="M1724.2,661.6 L1724.2,690.08 Q1823.8500000000001,711.44 1923.5,690.08 L1923.5,661.6 Z" fill="url(#gl24)"/>
<g transform="translate(1771,461.6)"><path d="M0,25.5 L23.7,35.0 L23.7,43.5 L0,34.0 Z" fill="#aecbfa"/><path d="M23.7,35.0 L47.5,25.5 L47.5,34.0 L23.7,43.5 Z" fill="#669df6"/><path d="M0,38 L23.7,47.5 L23.7,56 L0,46.5 Z" fill="#aecbfa"/><path d="M23.7,47.5 L47.5,38 L47.5,46.5 L23.7,56 Z" fill="#669df6"/><path d="M0,11.7 L23.7,21.8 L23.7,30 L0,20.5 Z" fill="#aecbfa"/><path d="M23.7,21.8 L47.5,11.7 L47.5,20.5 L23.7,30 Z" fill="#669df6"/><path d="M23.7,0 L0,11.7 L23.7,21.8 Z" fill="#6d9eeb"/><path d="M23.7,0 L47.5,11.7 L23.7,21.8 Z" fill="#4a86e8"/><path d="M23.7,9.2 L10.4,15.2 L23.7,21.8 L37,15.2 Z" fill="#5cb85c"/></g>
<text x="1851" y="479.8" font-size="12" font-weight="bold" fill="#fff" text-anchor="middle"  stroke="#fff" stroke-width="0.6">Google Cloud</text>
<text x="1851" y="494.4" font-size="12" font-weight="bold" fill="#fff" text-anchor="middle"  stroke="#fff" stroke-width="0.6">SQL</text>
<text x="1851" y="509" font-size="12" font-weight="bold" fill="#fff" text-anchor="middle"  stroke="#fff" stroke-width="0.6">(PostgreSQL)</text>
<g transform="translate(1765,555)"><rect x="7.6" y="10.5" width="47.4" height="6.399999999999999" fill="#669df6"/><rect x="7.6" y="21.3" width="47.4" height="6.099999999999998" fill="#669df6"/><rect x="7.6" y="32.9" width="47.4" height="5.5" fill="#669df6"/><rect x="7.6" y="43.7" width="47.4" height="4.899999999999999" fill="#669df6"/><rect x="15.4" y="5.8" width="31.8" height="47.8" fill="#aecbfa"/><path d="M32.6,5.8 L47.2,5.8 L47.2,53.6 L30,53.6 L30,31.7 L22.5,31.7 L32.6,14.5 Z" fill="#669df6"/><path d="M32.6,14.5 L22.5,31.7 L40,31.7 Z" fill="#3aa63a"/></g>
<text x="1852.8" y="582.7" font-size="11.3" font-weight="bold" fill="#fff" text-anchor="middle"  stroke="#fff" stroke-width="0.6">Google Memorystore</text>
<text x="1852.8" y="595.3" font-size="11.3" font-weight="bold" fill="#fff" text-anchor="middle"  stroke="#fff" stroke-width="0.6">(Broker / cache Redis)</text>
<rect x="1731" y="671" width="51" height="53" fill="#c80000" filter="url(#shs)"/>
<path d="M1747.5,685.5 L1747.5,708.5 Q1756.5,712.5 1765.5,708.5 L1765.5,685.5" fill="none" stroke="#4f6272" stroke-width="1.6"/>
<ellipse cx="1756.5" cy="686.0" rx="9" ry="2.6" fill="none" stroke="#4f6272" stroke-width="1.6"/>
<path d="M1743.5,684.5 L1736.5,677.5 M1736.5,682.5 L1736.5,677.5 L1741.5,677.5" fill="none" stroke="#4f6272" stroke-width="1.6"/>
<path d="M1769.5,684.5 L1776.5,677.5 M1776.5,682.5 L1776.5,677.5 L1771.5,677.5" fill="none" stroke="#4f6272" stroke-width="1.6"/>
<path d="M1743.5,710.5 L1736.5,717.5 M1736.5,712.5 L1736.5,717.5 L1741.5,717.5" fill="none" stroke="#4f6272" stroke-width="1.6"/>
<path d="M1769.5,710.5 L1776.5,717.5 M1776.5,712.5 L1776.5,717.5 L1771.5,717.5" fill="none" stroke="#4f6272" stroke-width="1.6"/>
<text x="1824" y="688.2" font-size="9.6" font-weight="bold" fill="#fff" text-anchor="middle"  stroke="#fff" stroke-width="0.6">Amazon bucket</text>
<text x="1824" y="699.5" font-size="9.6" font-weight="bold" fill="#fff" text-anchor="middle"  stroke="#fff" stroke-width="0.6">S3 AWS</text>
<text x="1824" y="711.6" font-size="9.6" font-weight="bold" fill="#fff" text-anchor="middle"  stroke="#fff" stroke-width="0.6">(assets)</text>
<circle cx="368.5" cy="400.2" r="35" fill="#fa6800" stroke="#140800" stroke-width="1.7" filter="url(#shs)"/>
<text x="368.5" y="404.2" font-size="9" font-weight="bold" fill="#fff8ea" text-anchor="middle" textLength="61" lengthAdjust="spacingAndGlyphs">Promtail (logs)</text>
<circle cx="1139.4" cy="400.3" r="35" fill="#fa6800" stroke="#140800" stroke-width="1.7" filter="url(#shs)"/>
<text x="1139.4" y="404.3" font-size="9" font-weight="bold" fill="#fff8ea" text-anchor="middle" textLength="61" lengthAdjust="spacingAndGlyphs">Promtail (logs)</text>
<circle cx="1159" cy="683" r="35" fill="#fa6800" stroke="#140800" stroke-width="1.7" filter="url(#shs)"/>
<text x="1159" y="687" font-size="9" font-weight="bold" fill="#fff8ea" text-anchor="middle" textLength="61" lengthAdjust="spacingAndGlyphs">Promtail (logs)</text>
<circle cx="655.5" cy="337.5" r="36" fill="#fa6800" stroke="#140800" stroke-width="1.7" filter="url(#shs)"/>
<text x="655.5" y="335.0" font-size="8.8" font-weight="bold" fill="#fff8ea" text-anchor="middle" textLength="60" lengthAdjust="spacingAndGlyphs">Node-exporter</text>
<text x="655.5" y="347.5" font-size="8.8" font-weight="bold" fill="#fff8ea" text-anchor="middle" textLength="37" lengthAdjust="spacingAndGlyphs">(Metrics)</text>
<circle cx="910" cy="457.6" r="36.5" fill="#fa6800" stroke="#140800" stroke-width="1.7" filter="url(#shs)"/>
<text x="910" y="455.1" font-size="8.8" font-weight="bold" fill="#fff8ea" text-anchor="middle" textLength="60" lengthAdjust="spacingAndGlyphs">Node-exporter</text>
<text x="910" y="467.6" font-size="8.8" font-weight="bold" fill="#fff8ea" text-anchor="middle" textLength="37" lengthAdjust="spacingAndGlyphs">(Metrics)</text>
<circle cx="892" cy="635.5" r="36.5" fill="#fa6800" stroke="#140800" stroke-width="1.7" filter="url(#shs)"/>
<text x="892" y="633.0" font-size="8.8" font-weight="bold" fill="#fff8ea" text-anchor="middle" textLength="60" lengthAdjust="spacingAndGlyphs">Node-exporter</text>
<text x="892" y="645.5" font-size="8.8" font-weight="bold" fill="#fff8ea" text-anchor="middle" textLength="37" lengthAdjust="spacingAndGlyphs">(Metrics)</text>
<g transform="translate(647,219) scale(1.0)"><g filter="url(#shs)"><rect x="7.0" y="0.5" width="3" height="5.5" fill="#4a86e0"/><rect x="7.0" y="27.5" width="3" height="5.5" fill="#4a86e0"/><rect x="0.5" y="8.0" width="5.5" height="3" fill="#4a86e0"/><rect x="28" y="8.0" width="5.5" height="3" fill="#4a86e0"/><rect x="14.0" y="0.5" width="3" height="5.5" fill="#4a86e0"/><rect x="14.0" y="27.5" width="3" height="5.5" fill="#4a86e0"/><rect x="0.5" y="15.0" width="5.5" height="3" fill="#4a86e0"/><rect x="28" y="15.0" width="5.5" height="3" fill="#4a86e0"/><rect x="21.0" y="0.5" width="3" height="5.5" fill="#4a86e0"/><rect x="21.0" y="27.5" width="3" height="5.5" fill="#4a86e0"/><rect x="0.5" y="22.0" width="5.5" height="3" fill="#4a86e0"/><rect x="28" y="22.0" width="5.5" height="3" fill="#4a86e0"/><rect x="5" y="4.5" width="24" height="24" fill="#aecbfa"/><rect x="8.5" y="8" width="17" height="17" fill="#c9c1d6"/><rect x="11" y="10.5" width="12" height="12" fill="#aecbfa"/><path d="M22.5,10.5 L22.5,22 L11.5,22 Z" fill="#4285f4"/></g></g>
<text x="664.0" y="263.5" font-size="9.25" font-weight="bold" fill="#fff" fill-opacity="0.8" text-anchor="middle">Compute</text>
<text x="664.0" y="275.0" font-size="9.25" font-weight="bold" fill="#fff" fill-opacity="0.8" text-anchor="middle">Engine</text>
<g transform="translate(272,480) scale(1.0)"><g filter="url(#shs)"><rect x="7.0" y="0.5" width="3" height="5.5" fill="#4a86e0"/><rect x="7.0" y="27.5" width="3" height="5.5" fill="#4a86e0"/><rect x="0.5" y="8.0" width="5.5" height="3" fill="#4a86e0"/><rect x="28" y="8.0" width="5.5" height="3" fill="#4a86e0"/><rect x="14.0" y="0.5" width="3" height="5.5" fill="#4a86e0"/><rect x="14.0" y="27.5" width="3" height="5.5" fill="#4a86e0"/><rect x="0.5" y="15.0" width="5.5" height="3" fill="#4a86e0"/><rect x="28" y="15.0" width="5.5" height="3" fill="#4a86e0"/><rect x="21.0" y="0.5" width="3" height="5.5" fill="#4a86e0"/><rect x="21.0" y="27.5" width="3" height="5.5" fill="#4a86e0"/><rect x="0.5" y="22.0" width="5.5" height="3" fill="#4a86e0"/><rect x="28" y="22.0" width="5.5" height="3" fill="#4a86e0"/><rect x="5" y="4.5" width="24" height="24" fill="#aecbfa"/><rect x="8.5" y="8" width="17" height="17" fill="#c9c1d6"/><rect x="11" y="10.5" width="12" height="12" fill="#aecbfa"/><path d="M22.5,10.5 L22.5,22 L11.5,22 Z" fill="#4285f4"/></g></g>
<text x="289.0" y="524.5" font-size="9.25" font-weight="bold" fill="#fff" fill-opacity="0.9" text-anchor="middle">Compute</text>
<text x="289.0" y="536.0" font-size="9.25" font-weight="bold" fill="#fff" fill-opacity="0.9" text-anchor="middle">Engine</text>
<g transform="translate(1542,457) scale(1.0)"><g filter="url(#shs)"><rect x="7.0" y="0.5" width="3" height="5.5" fill="#4a86e0"/><rect x="7.0" y="27.5" width="3" height="5.5" fill="#4a86e0"/><rect x="0.5" y="8.0" width="5.5" height="3" fill="#4a86e0"/><rect x="28" y="8.0" width="5.5" height="3" fill="#4a86e0"/><rect x="14.0" y="0.5" width="3" height="5.5" fill="#4a86e0"/><rect x="14.0" y="27.5" width="3" height="5.5" fill="#4a86e0"/><rect x="0.5" y="15.0" width="5.5" height="3" fill="#4a86e0"/><rect x="28" y="15.0" width="5.5" height="3" fill="#4a86e0"/><rect x="21.0" y="0.5" width="3" height="5.5" fill="#4a86e0"/><rect x="21.0" y="27.5" width="3" height="5.5" fill="#4a86e0"/><rect x="0.5" y="22.0" width="5.5" height="3" fill="#4a86e0"/><rect x="28" y="22.0" width="5.5" height="3" fill="#4a86e0"/><rect x="5" y="4.5" width="24" height="24" fill="#aecbfa"/><rect x="8.5" y="8" width="17" height="17" fill="#c9c1d6"/><rect x="11" y="10.5" width="12" height="12" fill="#aecbfa"/><path d="M22.5,10.5 L22.5,22 L11.5,22 Z" fill="#4285f4"/></g></g>
<text x="1559.0" y="501.5" font-size="9.25" font-weight="bold" fill="#fff" fill-opacity="0.8" text-anchor="middle">Compute</text>
<text x="1559.0" y="513.0" font-size="9.25" font-weight="bold" fill="#fff" fill-opacity="0.8" text-anchor="middle">Engine</text>
<g transform="translate(1544,550) scale(1.0)"><g filter="url(#shs)"><rect x="7.0" y="0.5" width="3" height="5.5" fill="#4a86e0"/><rect x="7.0" y="27.5" width="3" height="5.5" fill="#4a86e0"/><rect x="0.5" y="8.0" width="5.5" height="3" fill="#4a86e0"/><rect x="28" y="8.0" width="5.5" height="3" fill="#4a86e0"/><rect x="14.0" y="0.5" width="3" height="5.5" fill="#4a86e0"/><rect x="14.0" y="27.5" width="3" height="5.5" fill="#4a86e0"/><rect x="0.5" y="15.0" width="5.5" height="3" fill="#4a86e0"/><rect x="28" y="15.0" width="5.5" height="3" fill="#4a86e0"/><rect x="21.0" y="0.5" width="3" height="5.5" fill="#4a86e0"/><rect x="21.0" y="27.5" width="3" height="5.5" fill="#4a86e0"/><rect x="0.5" y="22.0" width="5.5" height="3" fill="#4a86e0"/><rect x="28" y="22.0" width="5.5" height="3" fill="#4a86e0"/><rect x="5" y="4.5" width="24" height="24" fill="#aecbfa"/><rect x="8.5" y="8" width="17" height="17" fill="#c9c1d6"/><rect x="11" y="10.5" width="12" height="12" fill="#aecbfa"/><path d="M22.5,10.5 L22.5,22 L11.5,22 Z" fill="#4285f4"/></g></g>
<text x="1561.0" y="594.5" font-size="9.25" font-weight="bold" fill="#fff" fill-opacity="0.55" text-anchor="middle">Compute</text>
<text x="1561.0" y="606.0" font-size="9.25" font-weight="bold" fill="#fff" fill-opacity="0.55" text-anchor="middle">Engine</text>
<g transform="translate(507,729.5) scale(1.0)"><g filter="url(#shs)"><rect x="7.0" y="0.5" width="3" height="5.5" fill="#4a86e0"/><rect x="7.0" y="27.5" width="3" height="5.5" fill="#4a86e0"/><rect x="0.5" y="8.0" width="5.5" height="3" fill="#4a86e0"/><rect x="28" y="8.0" width="5.5" height="3" fill="#4a86e0"/><rect x="14.0" y="0.5" width="3" height="5.5" fill="#4a86e0"/><rect x="14.0" y="27.5" width="3" height="5.5" fill="#4a86e0"/><rect x="0.5" y="15.0" width="5.5" height="3" fill="#4a86e0"/><rect x="28" y="15.0" width="5.5" height="3" fill="#4a86e0"/><rect x="21.0" y="0.5" width="3" height="5.5" fill="#4a86e0"/><rect x="21.0" y="27.5" width="3" height="5.5" fill="#4a86e0"/><rect x="0.5" y="22.0" width="5.5" height="3" fill="#4a86e0"/><rect x="28" y="22.0" width="5.5" height="3" fill="#4a86e0"/><rect x="5" y="4.5" width="24" height="24" fill="#aecbfa"/><rect x="8.5" y="8" width="17" height="17" fill="#c9c1d6"/><rect x="11" y="10.5" width="12" height="12" fill="#aecbfa"/><path d="M22.5,10.5 L22.5,22 L11.5,22 Z" fill="#4285f4"/></g></g>
<text x="524.0" y="774.0" font-size="9.25" font-weight="bold" fill="#fff" fill-opacity="0.85" text-anchor="middle">Compute</text>
<text x="524.0" y="785.5" font-size="9.25" font-weight="bold" fill="#fff" fill-opacity="0.85" text-anchor="middle">Engine</text>
<g filter="url(#shs)"><g transform="translate(453,6) scale(1.0,1.0)" fill="url(#cg25)"><ellipse cx="31.5" cy="67" rx="31.5" ry="28"/><ellipse cx="38.5" cy="30" rx="28" ry="22"/><ellipse cx="98" cy="24" rx="36" ry="24"/><ellipse cx="145" cy="55" rx="24" ry="32"/><ellipse cx="94" cy="77" rx="44" ry="25"/><rect x="28" y="28" width="112" height="52"/></g></g>
<path transform="translate(453,6) scale(1.0,1.0)" d="M49,73 Q53,84 63.5,91.5 M139,73.5 Q139,81 135.5,87 M131,20 Q133.5,24 134.5,29.5 M7,38 L12.5,44.5 M60.5,7.5 Q64,9.5 67,12" fill="none" stroke="#fff" stroke-width="2.2"/>
<text x="537.5" y="53.6" font-size="14.25" font-weight="bold" fill="#fff" text-anchor="middle"  stroke="#fff" stroke-width="0.6">AMEN (hébergement</text>
<text x="537.5" y="71" font-size="14.25" font-weight="bold" fill="#fff" text-anchor="middle"  stroke="#fff" stroke-width="0.6">DNS)</text>
<g filter="url(#shs)"><g transform="translate(246.6,900.6) scale(1.0,1.0058823529411764)" fill="url(#cg26)"><ellipse cx="31.5" cy="67" rx="31.5" ry="28"/><ellipse cx="38.5" cy="30" rx="28" ry="22"/><ellipse cx="98" cy="24" rx="36" ry="24"/><ellipse cx="145" cy="55" rx="24" ry="32"/><ellipse cx="94" cy="77" rx="44" ry="25"/><rect x="28" y="28" width="112" height="52"/></g></g>
<path transform="translate(246.6,900.6) scale(1.0,1.0058823529411764)" d="M49,73 Q53,84 63.5,91.5 M139,73.5 Q139,81 135.5,87 M131,20 Q133.5,24 134.5,29.5 M7,38 L12.5,44.5 M60.5,7.5 Q64,9.5 67,12" fill="none" stroke="#fff" stroke-width="2.2"/>
<text x="331.2" y="950" font-size="14.25" font-weight="bold" fill="#fff" text-anchor="middle"  stroke="#fff" stroke-width="0.6">AMEN (hébergement</text>
<text x="331.2" y="967.2" font-size="14.25" font-weight="bold" fill="#fff" text-anchor="middle"  stroke="#fff" stroke-width="0.6">DNS)</text>
<g filter="url(#shs)"><rect x="63.5" y="530.5" width="55" height="36" fill="#eeeeee" stroke="#f26d21" stroke-width="3"/></g>
<path d="M65,532 L91.0,552.4 L117,532 M65,565 L83.46000000000001,548.5 M117,565 L98.53999999999999,548.5" fill="none" stroke="#f26d21" stroke-width="3"/>
<text x="90.5" y="583" font-size="14.25" font-weight="normal" fill="#000" text-anchor="middle" >Notifications Alertes</text>
<text x="90.5" y="600" font-size="14.25" font-weight="normal" fill="#000" text-anchor="middle" >sur admin@pen-pot.com</text>
<text x="385.6" y="60" font-size="10.3" font-weight="normal" fill="#111" text-anchor="start" >HTTPS (443)</text>
<text x="398.4" y="256.8" font-size="10.3" font-weight="normal" fill="#111" text-anchor="start" >HTTP (80) / HTTPS (443)</text>
<text x="404.7" y="419.7" font-size="10.3" font-weight="normal" fill="#111" text-anchor="start" >TCP (9080)</text>
<text x="600.2" y="387.9" font-size="10.3" font-weight="normal" fill="#111" text-anchor="start" >TCP (9100)</text>
<text x="866" y="256.5" font-size="10.3" font-weight="normal" fill="#111" text-anchor="start" >TCP (3000)</text>
<text x="1036.5" y="256.5" font-size="10.3" font-weight="normal" fill="#111" text-anchor="start" >TCP (6060)</text>
<text x="1048.7" y="419.7" font-size="10.3" font-weight="normal" fill="#111" text-anchor="start" >TCP (9080)</text>
<text x="1280.4" y="440.7" font-size="10.3" font-weight="normal" fill="#111" text-anchor="start" >TCP (6061)</text>
<text x="818.3" y="448.7" font-size="10.3" font-weight="normal" fill="#111" text-anchor="start" >TCP (9100)</text>
<text x="799" y="629" font-size="10.3" font-weight="normal" fill="#111" text-anchor="start" >TCP (9100)</text>
<text x="1100" y="640" font-size="10.3" font-weight="normal" fill="#111" text-anchor="start" >TCP (9080)</text>
<text x="1298.5" y="631.5" font-size="10.3" font-weight="normal" fill="#111" text-anchor="start" >TCP (6061)</text>
<text x="898.7" y="755.4" font-size="10.3" font-weight="normal" fill="#111" text-anchor="start" >TCP (3000)</text>
<text x="1061.8" y="751.7" font-size="10.3" font-weight="normal" fill="#111" text-anchor="start" >TCP (6060)</text>
<text x="1664.2" y="363.7" font-size="10.3" font-weight="normal" fill="#111" text-anchor="start" >TCP (587)</text>
<text x="1693.6" y="470" font-size="10.3" font-weight="normal" fill="#111" text-anchor="start" >TCP (5432)</text>
<text x="1700" y="577" font-size="10.3" font-weight="normal" fill="#111" text-anchor="start" >TCP (6979)</text>
<text x="1735.4" y="749.4" font-size="10.3" font-weight="normal" fill="#111" text-anchor="start" >HTTPS (443) API</text>
<text x="478.8" y="491.3" font-size="10.3" font-weight="normal" fill="#111" text-anchor="start" >TCP (3100)</text>
<text x="594.6" y="500.9" font-size="10.3" font-weight="normal" fill="#111" text-anchor="start" >TCP (3100)</text>
<text x="451.9" y="529.3" font-size="10.3" font-weight="normal" fill="#111" text-anchor="start" >HTTP (3100)</text>
<text x="589" y="562.5" font-size="10.3" font-weight="normal" fill="#111" text-anchor="start" >TCP (3100)</text>
<text x="487.6" y="631.5" font-size="10.3" font-weight="normal" fill="#111" text-anchor="start" >HTTP (9090)</text>
<text x="266.3" y="562.5" font-size="10.3" font-weight="normal" fill="#111" text-anchor="start" >TCP (587)</text>
<text x="264.8" y="610.5" font-size="10.3" font-weight="normal" fill="#111" text-anchor="start" >HTTPS (443)</text>
<text x="426.6" y="943.8" font-size="10.3" font-weight="normal" fill="#111" text-anchor="start" >HTTPS (443)</text>
<text x="434.5" y="714.8" font-size="14.25" fill="#111" xml:space="preserve">Oslogin ssh  (22)</text>
<text x="557.5" y="750.3" font-size="14.25" fill="#111" xml:space="preserve">Oslogin ssh  (22)</text>
<text x="558.8" y="791.2" font-size="14.25" fill="#111" xml:space="preserve">Oslogin ssh  (22)</text>
<text x="529.2" y="909.6" font-size="14.25" fill="#111" xml:space="preserve">Oslogin (4222)</text>
<text x="263" y="778.3" font-size="14.25" font-weight="normal" fill="#111" text-anchor="middle" >Oslogin ssh</text>
<text x="265.5" y="796.7" font-size="14.25" font-weight="normal" fill="#111" text-anchor="middle" >(22)</text>
<text x="697" y="912.9" font-size="19.7" font-weight="bold" fill="#000" text-anchor="start" >Légende :</text>
<path d="M805.16,929.90 L795.36,934.80 L797.81,929.90 L795.36,925.00 Z" fill="#b20000" stroke="#b20000" stroke-width="1.44" stroke-linejoin="miter"/>
<path d="M719,929.9 L797.81,929.90" fill="none" stroke="#b20000" stroke-width="2.4" stroke-linejoin="round"/>
<text x="814.3" y="937.3" font-size="19.9" font-weight="bold" fill="#000" text-anchor="start" >: Flux connections docker swarm (manager-&gt;workers) - Ports: 2377, 7946, 4789</text>
<path d="M805.16,954.30 L795.36,959.20 L797.81,954.30 L795.36,949.40 Z" fill="#15669e" stroke="#15669e" stroke-width="1.44" stroke-linejoin="miter"/>
<path d="M719,954.3 L797.81,954.30" fill="none" stroke="#15669e" stroke-width="2.4" stroke-linejoin="round"/>
<text x="814.3" y="961.6999999999999" font-size="19.9" font-weight="bold" fill="#000" text-anchor="start" >: Flux applicatifs (HTT˙P/HTTPS)</text>
<path d="M805.16,978.70 L795.36,983.60 L797.81,978.70 L795.36,973.80 Z" fill="#b4661a" stroke="#b4661a" stroke-width="1.44" stroke-linejoin="miter"/>
<path d="M719,978.7 L797.81,978.70" fill="none" stroke="#b4661a" stroke-width="2.4" stroke-linejoin="round"/>
<text x="814.3" y="986.1" font-size="19.9" font-weight="bold" fill="#000" text-anchor="start" >: Flux monitoring</text>
<path d="M805.16,1002.60 L795.36,1007.50 L797.81,1002.60 L795.36,997.70 Z" fill="#ab9200" stroke="#ab9200" stroke-width="1.44" stroke-linejoin="miter"/>
<path d="M719,1002.6 L797.81,1002.60" fill="none" stroke="#ab9200" stroke-width="2.4" stroke-linejoin="round"/>
<text x="814.3" y="1010.0" font-size="19.9" font-weight="bold" fill="#000" text-anchor="start" >: Flux administration (SSH)</text>
</svg>
</body></html>
